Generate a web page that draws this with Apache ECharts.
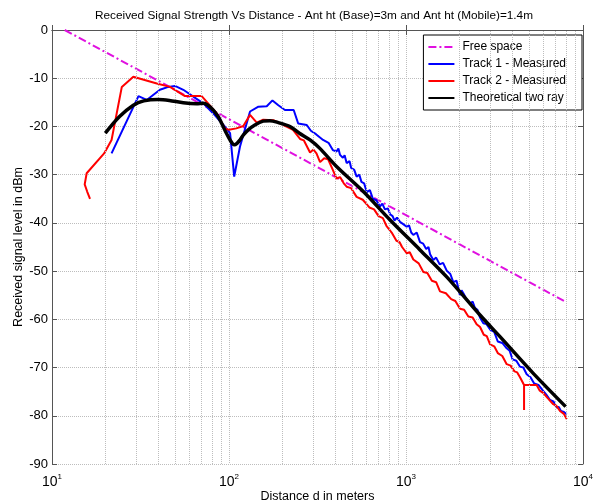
<!DOCTYPE html>
<html>
<head>
<meta charset="utf-8">
<script src="https://cdn.jsdelivr.net/npm/echarts@6/dist/echarts.min.js"></script>
<style>
  html, body { margin: 0; padding: 0; background: #fff; }
  #chart { width: 595px; height: 504px; }
</style>
</head>
<body>
<div id="chart"></div>
<script>
// distances (m) and received level (dBm)
var freeD = [11.8, 8000];
var freeDb = [0, -56.4];

var track1D = [21.7, 30.8, 34.3, 40.7, 45.4, 49.5, 55.2, 62.8, 71.6, 81.5, 93, 101.4, 107, 115.3, 131.5, 146.6,
  163.4, 176, 190, 207, 232, 246, 275, 290, 310, 340, 365, 386, 405, 415, 424, 440, 450, 462, 480, 490, 510,
  526, 545, 560, 580, 600, 625, 650, 680, 713, 735, 760, 790, 813, 840, 860, 890, 925, 960, 1009, 1040, 1070,
  1100, 1150, 1200, 1250, 1300, 1340, 1368, 1426, 1480, 1550, 1620, 1698, 1780, 1850, 1930, 2018, 2060, 2109,
  2200, 2300, 2380, 2450, 2530, 2618, 2680, 2735, 2850, 3000, 3150, 3300, 3500, 3706, 3850, 4000, 4200, 4400,
  4600, 4807, 5050, 5300, 5600, 5975, 6200, 6500, 6800, 7100, 7300, 7500, 7800, 8090];
var track1Db = [-25.6, -13.7, -14.5, -12.4, -11.8, -11.6, -12.4, -13.8, -15.2, -17.3, -19.7, -21.4, -30.4, -24.2, -16.9, -15.9,
  -15.8, -14.6, -15.6, -16.6, -16.6, -19.4, -19.7, -20.9, -21.6, -22.8, -23.4, -24.9, -25.2, -24.6, -25.9, -26.5, -26.0, -27.6, -27.2, -28.6, -29.0,
  -30.4, -30.0, -31.5, -31.8, -33.6, -33.2, -35.0, -35.3, -36.6, -36.0, -37.2, -37.0, -38.2, -38.6, -39.5, -38.9, -39.8, -40.2, -40.8, -40.5, -42.0,
  -42.5, -42.0, -44.0, -44.3, -45.4, -45.0, -46.5, -47.7, -47.2, -48.6, -48.3, -49.9, -50.6, -52.3, -52.0, -55.0, -54.0, -54.6,
  -55.9, -56.8, -56.3, -57.6, -58.0, -59.6, -59.2, -60.8, -61.0, -62.2, -62.6, -64.6, -64.9, -66.0, -66.5, -68.3, -68.6, -69.8,
  -70.0, -71.4, -72.0, -73.3, -73.6, -74.9, -75.6, -76.7, -77.0, -78.3, -78.2, -79.0, -79.2, -79.7];

var track2D = [16.4, 15.8, 16.2, 15.3, 15.7, 15.7, 19.7, 21.7, 24.8, 28.8, 39.1, 46.4, 56.4, 70.1, 74.9, 85.3, 94.9, 100,
  110, 120.5, 131.5, 143.5, 156, 178, 203, 230, 252, 265, 287, 300, 312, 327, 345, 363, 386, 405, 424, 445, 462, 490,
  526, 570, 621, 660, 700, 740, 775, 830, 883, 920, 950, 1009, 1050, 1100, 1180, 1253, 1320, 1400, 1480, 1556, 1680,
  1800, 1900, 2018, 2130, 2250, 2380, 2506, 2620, 2750, 2860, 2985, 3150, 3300, 3500, 3706, 3900, 4100, 4250, 4406,
  4645, 4645, 4645, 5470, 5700, 5975, 6300, 6790, 7100, 7413, 7800, 8090];
var track2Db = [-35.0, -33.5, -33.2, -32.0, -32.0, -29.7, -25.6, -22.8, -11.8, -9.7, -11.1, -11.8, -13.7, -13.7, -14.9, -17.3, -20.4, -20.7,
  -20.4, -19.9, -17.6, -19.2, -18.6, -18.7, -19.7, -20.7, -22.6, -22.9, -25.4, -24.8, -25.6, -27.4, -26.6, -26.8, -29.0, -30.8, -30.5, -31.8, -32.5, -32.8,
  -34.6, -35.2, -36.8, -37.2, -38.6, -39.0, -40.6, -42.0, -43.7, -44.0, -45.0, -46.3, -46.1, -47.6, -48.4, -50.2, -50.4, -52.0, -52.3, -54.2, -54.6,
  -55.8, -56.2, -57.8, -58.0, -59.4, -59.6, -61.0, -61.6, -63.2, -63.5, -65.2, -65.6, -67.0, -67.6, -69.3, -69.6, -70.8, -71.0, -72.0,
  -73.6, -78.8, -73.6, -73.6, -74.8, -75.3, -76.3, -77.6, -78.0, -79.0, -79.6, -80.7];

var twoRayD = [20, 24, 28.8, 33, 39.9, 46, 55.2, 65.6, 71.6, 76, 81.5, 87, 91, 96, 101.4, 107, 111, 115.3, 121, 128.5,
  140, 156, 170, 190, 221, 250, 287, 327, 405, 574, 813, 1200, 1698, 2618, 3396, 5236, 7980];
var twoRayDb = [-21.4, -18.0, -15.6, -14.7, -14.4, -14.6, -15.1, -15.3, -15.2, -15.6, -16.6, -18.0, -19.4, -21.2, -22.8, -23.8, -23.5, -22.8, -21.7, -20.7,
  -19.7, -18.9, -18.8, -19.2, -20.0, -21.4, -22.8, -24.6, -28.3, -33.5, -39.4, -45.6, -51.2, -59.1, -63.6, -71.2, -78.1];

// minor log grid positions
var minorGridX = [20, 30, 40, 50, 60, 70, 80, 90, 200, 300, 400, 500, 600, 700, 800, 900,
  2000, 3000, 4000, 5000, 6000, 7000, 8000, 9000];

function pairs(xs, ys) {
  return xs.map(function (x, i) { return [x, ys[i]]; });
}

var font = "'Liberation Sans', Arial, sans-serif";
var gridColor = '#bdbdbd';

var myChart = echarts.init(document.getElementById('chart'));
myChart.setOption({
  animation: false,
  backgroundColor: '#fff',
  textStyle: { fontFamily: font },
  title: {
    text: 'Received Signal Strength Vs Distance - Ant ht (Base)=3m and Ant ht (Mobile)=1.4m',
    left: 90,
    top: 5,
    textStyle: { fontSize: 11.8, fontWeight: 'normal', color: '#000', fontFamily: font }
  },
  legend: {
    orient: 'vertical',
    right: 13,
    top: 35,
    padding: [5, 16, 5, 4],
    itemGap: 3,
    itemWidth: 26,
    itemHeight: 13,
    backgroundColor: '#fff',
    borderColor: '#000',
    borderWidth: 1,
    borderRadius: 0,
    itemStyle: { opacity: 0 },
    textStyle: { fontSize: 12, lineHeight: 14, color: '#000', fontFamily: font, padding: [0, 0, 0, 3] },
    data: ['Free space', 'Track 1 - Measured', 'Track 2 - Measured', 'Theoretical two ray']
  },
  grid: { left: 52, right: 12, top: 30, bottom: 40, outerBoundsMode: 'none', containLabel: false },
  xAxis: [
    {
      type: 'log',
      logBase: 10,
      min: 10,
      max: 10000,
      name: 'Distance d in meters',
      nameLocation: 'middle',
      nameGap: 26,
      nameMoveOverlap: false,
      nameTextStyle: { fontSize: 12.5, color: '#000' },
      axisLine: { show: true, lineStyle: { color: '#555' } },
      axisTick: { inside: true, length: 5, lineStyle: { color: '#555' } },
      axisLabel: {
        margin: 9,
        color: '#000',
        formatter: function (v) {
          return '{b|10}{s|' + Math.round(Math.log10(v)) + '}';
        },
        rich: {
          b: { fontSize: 14, color: '#000', fontFamily: font },
          s: { fontSize: 8, color: '#000', fontFamily: font, padding: [0, 0, 10, 0] }
        }
      },
      splitLine: { show: true, lineStyle: { color: gridColor, type: 'dotted' } }
    },
    {
      type: 'log',
      logBase: 10,
      min: 10,
      max: 10000,
      position: 'top',
      axisLine: { show: true, lineStyle: { color: '#555' } },
      axisTick: { inside: true, length: 5, lineStyle: { color: '#555' } },
      axisLabel: { show: false },
      splitLine: { show: false }
    }
  ],
  yAxis: [
    {
      type: 'value',
      min: -90,
      max: 0,
      interval: 10,
      name: 'Received signal level in dBm',
      nameLocation: 'middle',
      nameGap: 27,
      nameMoveOverlap: false,
      nameTextStyle: { fontSize: 12.5, color: '#000' },
      axisLine: { show: true, lineStyle: { color: '#555' } },
      axisTick: { inside: true, length: 5, lineStyle: { color: '#555' } },
      axisLabel: { margin: 4, fontSize: 13, color: '#000' },
      splitLine: { show: true, lineStyle: { color: gridColor, type: 'dotted' } }
    },
    {
      type: 'value',
      min: -90,
      max: 0,
      interval: 10,
      position: 'right',
      axisLine: { show: true, lineStyle: { color: '#555' } },
      axisTick: { inside: true, length: 5, lineStyle: { color: '#555' } },
      axisLabel: { show: false },
      splitLine: { show: false }
    }
  ],
  series: [
    {
      name: 'Free space',
      type: 'line',
      symbol: 'none',
      lineStyle: { color: '#e010e0', width: 2, type: [8, 3, 2, 3] },
      itemStyle: { color: '#e010e0' },
      data: pairs(freeD, freeDb),
      markLine: {
        silent: true,
        symbol: 'none',
        label: { show: false },
        lineStyle: { color: gridColor, type: 'dotted', width: 1 },
        emphasis: { disabled: true },
        data: minorGridX.map(function (x) { return { xAxis: x }; })
      },
      z: 2
    },
    {
      name: 'Track 1 - Measured',
      type: 'line',
      symbol: 'none',
      lineStyle: { color: '#0000ff', width: 2 },
      itemStyle: { color: '#0000ff' },
      data: pairs(track1D, track1Db),
      z: 3
    },
    {
      name: 'Track 2 - Measured',
      type: 'line',
      symbol: 'none',
      lineStyle: { color: '#ff0000', width: 2 },
      itemStyle: { color: '#ff0000' },
      data: pairs(track2D, track2Db),
      z: 4
    },
    {
      name: 'Theoretical two ray',
      type: 'line',
      symbol: 'none',
      smooth: 0.3,
      lineStyle: { color: '#000', width: 3.5 },
      itemStyle: { color: '#000' },
      data: pairs(twoRayD, twoRayDb),
      z: 5
    }
  ]
});
</script>
</body>
</html>
